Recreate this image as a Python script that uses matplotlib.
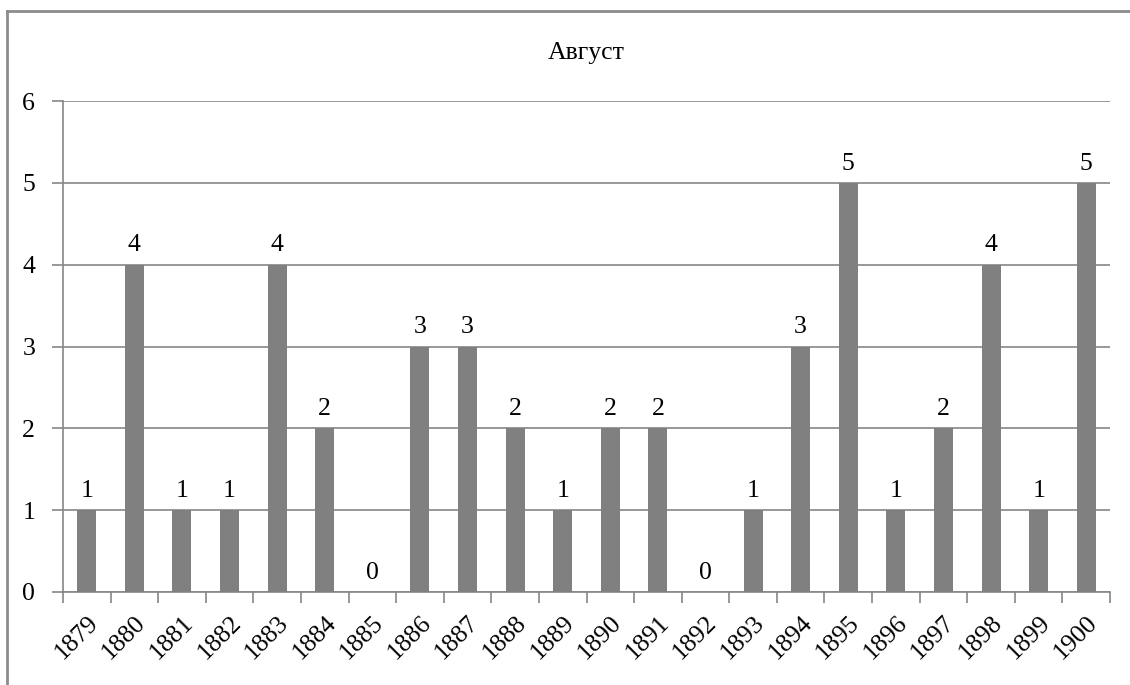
import matplotlib
matplotlib.use("Agg")
import matplotlib.pyplot as plt
from matplotlib.lines import Line2D
import numpy as np

years = ["1879", "1880", "1881", "1882", "1883", "1884", "1885", "1886", "1887", "1888",
         "1889", "1890", "1891", "1892", "1893", "1894", "1895", "1896", "1897", "1898",
         "1899", "1900"]
values = [1, 4, 1, 1, 4, 2, 0, 3, 3, 2, 1, 2, 2, 0, 1, 3, 5, 1, 2, 4, 1, 5]
title = "Август"

plt.rcParams['font.family'] = ['Liberation Serif', 'DejaVu Serif']
W, H = 1130, 685
FS = 18.5
fig = plt.figure(figsize=(W / 100, H / 100), dpi=100)
ax = fig.add_axes([63 / W, 1 - 592 / H, (1110 - 63) / W, (592 - 101) / H])

gray = "#868686"
x = np.arange(len(years))
bars = ax.bar(x, values, width=0.4, color="#808080", zorder=3)
for xi, v in zip(x, values):
    ax.text(xi, v + 0.1, str(v), ha="center", va="bottom", fontsize=FS, color="black")

ax.set_xlim(-0.5, len(years) - 0.5)
ax.set_ylim(0, 6)
ax.set_yticks(range(0, 7))
ax.yaxis.grid(True, color=gray, linewidth=1.2, zorder=0)
ax.set_axisbelow(True)

ax.set_xticks(x)
ax.set_xticklabels(years, rotation=45, ha="right", va="top", rotation_mode="anchor", fontsize=FS)
ax.set_xticks(np.arange(-0.5, len(years) + 0.5, 1), minor=True)
ax.tick_params(axis="x", which="major", length=0, pad=14)
ax.tick_params(axis="x", which="minor", length=8, width=1.2, color=gray, direction="out")
ax.tick_params(axis="y", length=8, width=1.2, color=gray, labelsize=FS, pad=12)

for s in ["top", "right"]:
    ax.spines[s].set_visible(False)
for s in ["left", "bottom"]:
    ax.spines[s].set_color(gray)
    ax.spines[s].set_linewidth(1.2)

ax.set_title(title, fontsize=FS, pad=30)

# outer chart border
fig.add_artist(Line2D([7 / W, 1.0], [1 - 11 / H, 1 - 11 / H], color="#8c8c8c", linewidth=2, transform=fig.transFigure))
fig.add_artist(Line2D([7 / W, 7 / W], [0.0, 1 - 11 / H], color="#8c8c8c", linewidth=2, transform=fig.transFigure))

fig.savefig("out.png", dpi=100, facecolor="white")
